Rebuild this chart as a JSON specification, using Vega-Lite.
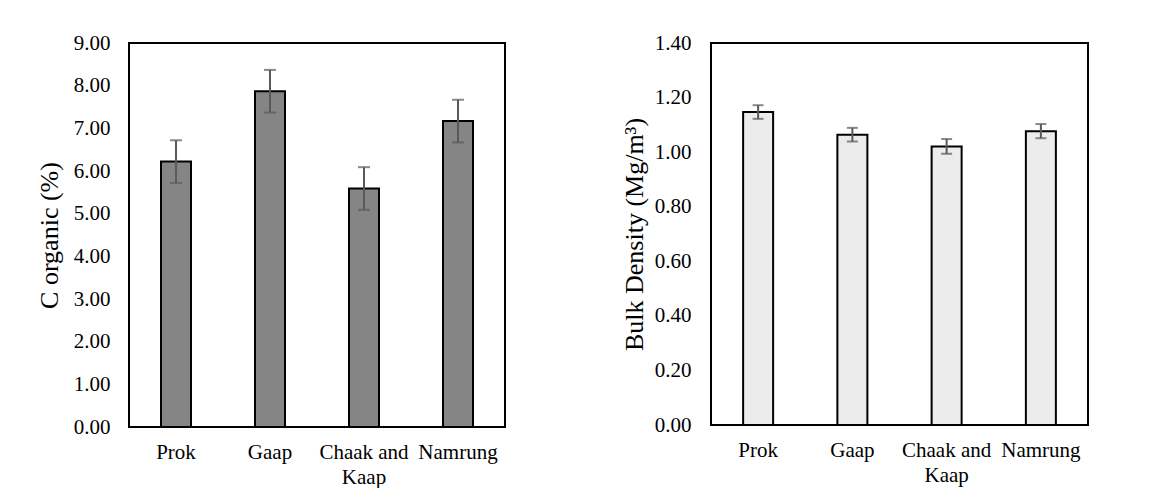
{
  "$schema": "https://vega.github.io/schema/vega-lite/v6.json",
  "background": "white",
  "padding": {"left": 35, "top": 31, "right": 0, "bottom": 0},
  "config": {
    "font": "Liberation Serif",
    "view": {"stroke": "#000", "strokeWidth": 2},
    "axis": {"grid": false, "domain": false, "ticks": false, "labelFont": "Liberation Serif", "labelFontSize": 21, "labelColor": "#000", "titleFont": "Liberation Serif", "titleFontSize": 26, "titleFontWeight": "normal", "titleColor": "#000"},
    "concat": {"spacing": 114}
  },
  "hconcat": [
    {
      "width": 376,
      "height": 384,
      "data": {"values": [
        {"site": "Prok", "value": 6.22, "err": 0.5},
        {"site": "Gaap", "value": 7.87, "err": 0.5},
        {"site": "Chaak and Kaap", "value": 5.59, "err": 0.5},
        {"site": "Namrung", "value": 7.17, "err": 0.5}
      ]},
      "encoding": {
        "x": {"field": "site", "type": "nominal", "sort": null, "axis": {"title": null, "labelAngle": 0, "labelPadding": 14, "labelLineHeight": 25, "labelExpr": "datum.label == 'Chaak and Kaap' ? ['Chaak and', 'Kaap'] : datum.label"}}
      },
      "layer": [
        {
          "mark": {"type": "bar", "size": 30, "fill": "#858585", "stroke": "#000", "strokeWidth": 2},
          "encoding": {"y": {"field": "value", "type": "quantitative", "scale": {"domain": [0, 9]}, "axis": {"title": "C organic (%)", "values": [0,1,2,3,4,5,6,7,8,9], "format": ".2f", "labelPadding": 19, "titlePadding": 11}}}
        },
        {
          "mark": {"type": "errorbar", "ticks": true, "size": 12, "thickness": 2, "color": "#595959"},
          "encoding": {"y": {"field": "value", "type": "quantitative", "title": "C organic (%)"}, "yError": {"field": "err"}}
        }
      ]
    },
    {
      "width": 377,
      "height": 382,
      "data": {"values": [
        {"site": "Prok", "value": 1.147, "err": 0.025},
        {"site": "Gaap", "value": 1.064, "err": 0.025},
        {"site": "Chaak and Kaap", "value": 1.021, "err": 0.027},
        {"site": "Namrung", "value": 1.077, "err": 0.026}
      ]},
      "encoding": {
        "x": {"field": "site", "type": "nominal", "sort": null, "axis": {"title": null, "labelAngle": 0, "labelPadding": 14, "labelLineHeight": 25, "labelExpr": "datum.label == 'Chaak and Kaap' ? ['Chaak and', 'Kaap'] : datum.label"}}
      },
      "layer": [
        {
          "mark": {"type": "bar", "size": 30, "fill": "#ececec", "stroke": "#000", "strokeWidth": 2},
          "encoding": {"y": {"field": "value", "type": "quantitative", "scale": {"domain": [0, 1.4]}, "axis": {"title": "Bulk Density (Mg/m³)", "values": [0,0.2,0.4,0.6,0.8,1.0,1.2,1.4], "format": ".2f", "labelPadding": 20, "titlePadding": 7}}}
        },
        {
          "mark": {"type": "errorbar", "ticks": true, "size": 11, "thickness": 2, "color": "#595959"},
          "encoding": {"y": {"field": "value", "type": "quantitative", "title": "Bulk Density (Mg/m³)"}, "yError": {"field": "err"}}
        }
      ]
    }
  ]
}
